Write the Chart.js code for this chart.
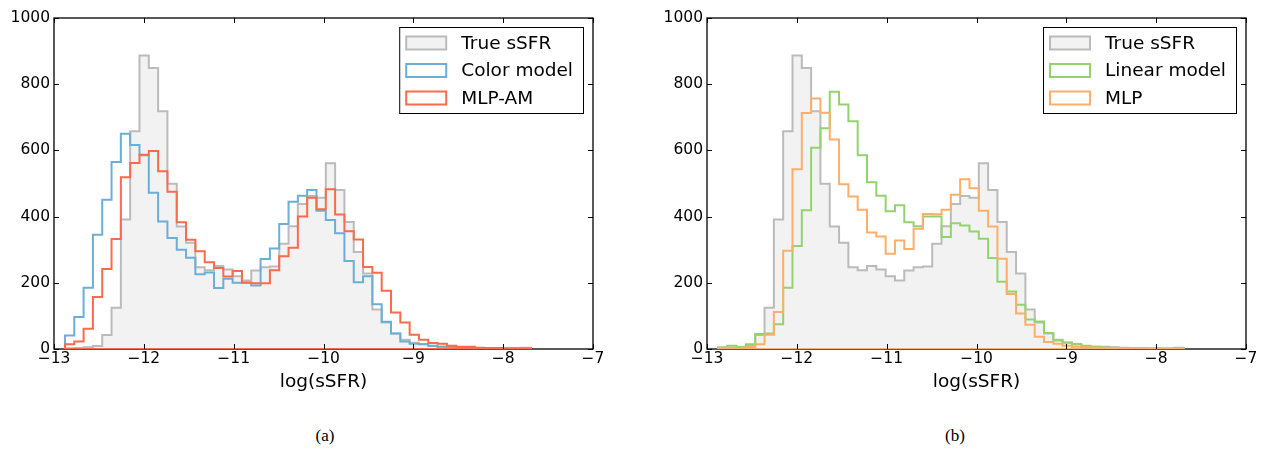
<!DOCTYPE html>
<html>
<head>
<meta charset="utf-8">
<script src="https://cdn.jsdelivr.net/npm/chart.js@4.4.1/dist/chart.umd.min.js"></script>
<style>
  body { margin: 0; background: #fff; width: 1265px; height: 449px; position: relative; overflow: hidden; }
  canvas { position: absolute; top: 0; }
  .caption { position: absolute; top: 426px; font-family: 'Liberation Serif', serif; font-size: 17px; transform: translateX(-50%); }
</style>
</head>
<body>
<canvas id="histA" width="620" height="400" style="left:0"></canvas>
<canvas id="histB" width="620" height="400" style="left:653px"></canvas>
<div class="caption" style="left:325px">(a)</div>
<div class="caption" style="left:955px">(b)</div>
<script>
// bins del histograma (50 bins comunes a todas las series)
const binStart = -12.878;
const binWidth = 0.1037;

const xTicks = [-13, -12, -11, -10, -9, -8, -7];
const yTicks = [0, 200, 400, 600, 800, 1000];

const trueSSFR = [2, 3, 5, 9, 42, 125, 391, 658, 887, 849,
    718, 499, 370, 321, 247, 238, 251, 240, 220, 207,
    237, 247, 249, 318, 371, 438, 462, 457, 561, 480,
    384, 293, 228, 119, 80, 47, 28, 19, 15, 9,
    7, 7, 5, 4, 3, 3, 2, 2, 2, 4];

const colorModel = [41, 97, 185, 345, 451, 565, 650, 616, 585, 472,
    385, 335, 300, 276, 226, 231, 184, 212, 200, 201,
    192, 272, 304, 378, 445, 463, 480, 418, 390, 350,
    266, 202, 220, 135, 82, 47, 23, 16, 14, 10,
    7, 5, 4, 3, 2, 2, 1, 1, 1, 0];

const mlpAM = [14, 23, 61, 157, 242, 332, 519, 562, 587, 598,
    537, 475, 383, 330, 295, 262, 245, 219, 236, 200,
    199, 199, 238, 280, 306, 400, 457, 422, 483, 406,
    356, 331, 248, 230, 176, 110, 80, 43, 28, 18,
    16, 10, 7, 7, 4, 3, 3, 2, 2, 2];

const linearModel = [5, 10, 6, 14, 45, 47, 75, 185, 311, 419,
    608, 667, 777, 739, 688, 585, 504, 463, 416, 434,
    383, 371, 400, 400, 338, 380, 373, 355, 333, 275,
    203, 174, 134, 89, 83, 48, 26, 20, 14, 10,
    7, 5, 4, 3, 2, 2, 1, 1, 1, 1];

const mlp = [2, 4, 3, 5, 14, 43, 112, 297, 543, 713,
    757, 714, 633, 498, 461, 421, 352, 340, 288, 328,
    302, 363, 408, 407, 421, 466, 513, 486, 418, 370,
    273, 166, 107, 73, 37, 21, 16, 10, 7, 5,
    4, 3, 3, 2, 2, 2, 1, 1, 1, 1];

Chart.defaults.font.family = "'DejaVu Sans', sans-serif";
Chart.defaults.color = '#000';

const menos = (v) => v < 0 ? '\u2212' + Math.abs(v) : String(v);

// convierte conteos en puntos escalonados (borde izquierdo de cada bin)
const pasos = (conteos, cerrar) => {
    const pts = [{ x: binStart, y: 0 }];
    conteos.forEach((c, i) => pts.push({ x: binStart + i * binWidth, y: c }));
    pts.push({ x: binStart + conteos.length * binWidth, y: 0 });
    if (cerrar) pts.push({ x: binStart, y: 0 });
    return pts;
};

const marcoPlugin = {
    id: 'marco',
    beforeDatasetsDraw(chart) {
        const { ctx, chartArea: a } = chart;
        ctx.save();
        ctx.strokeStyle = '#000';
        ctx.lineWidth = 1.3;
        ctx.strokeRect(a.left, a.top, a.right - a.left, a.bottom - a.top);
        ctx.restore();
    },
    afterDatasetsDraw(chart) {
        const { ctx, chartArea: a, scales } = chart;
        const len = 5;
        ctx.save();
        ctx.strokeStyle = '#000';
        ctx.lineWidth = 1;
        ctx.beginPath();
        xTicks.forEach(v => {
            const px = Math.round(scales.x.getPixelForValue(v)) + 0.5;
            ctx.moveTo(px, a.bottom); ctx.lineTo(px, a.bottom - len);
            ctx.moveTo(px, a.top); ctx.lineTo(px, a.top + len);
        });
        yTicks.forEach(v => {
            const py = Math.round(scales.y.getPixelForValue(v)) + 0.5;
            ctx.moveTo(a.left, py); ctx.lineTo(a.left + len, py);
            ctx.moveTo(a.right, py); ctx.lineTo(a.right - len, py);
        });
        ctx.stroke();
        ctx.restore();
    }
};

// leyenda estilo matplotlib (recuadros con borde del color de la serie)
const crearLeyenda = (items) => ({
    id: 'leyenda',
    afterDraw(chart) {
        const { ctx, chartArea: a } = chart;
        ctx.save();
        ctx.font = "18.5px 'DejaVu Sans'";
        const textW = Math.max(...items.map(it => ctx.measureText(it.label).width));
        const w = 7 + 40 + 15 + textW + 10;
        const h = 86;
        const x0 = a.right - 10 - w;
        const y0 = a.top + 9;
        ctx.fillStyle = '#fff';
        ctx.fillRect(x0, y0, w, h);
        ctx.strokeStyle = '#000';
        ctx.lineWidth = 1;
        ctx.strokeRect(x0 + 0.5, y0 + 0.5, w, h);
        items.forEach((it, i) => {
            const cy = y0 + 16 + i * 27.5;
            ctx.fillStyle = it.fill ? it.fill : '#ffffff';
            ctx.fillRect(x0 + 7, cy - 6.5, 40, 13);
            ctx.strokeStyle = it.color;
            ctx.lineWidth = 2;
            ctx.strokeRect(x0 + 7, cy - 6.5, 40, 13);
            ctx.fillStyle = '#000';
            ctx.textBaseline = 'middle';
            ctx.fillText(it.label, x0 + 62, cy + 1);
        });
        ctx.restore();
    }
});

window.crearHistograma = (canvasId, series) => {
    const ctx = document.getElementById(canvasId).getContext('2d');
    const n = series.length;

    new Chart(ctx, {
        type: 'line',
        data: {
            datasets: series.map((s, i) => ({
                label: s.label,
                data: pasos(s.data, !s.fill),
                stepped: true,
                borderColor: s.color,
                borderWidth: 2,
                backgroundColor: s.fill || 'transparent',
                fill: s.fill ? 'origin' : false,
                pointRadius: 0,
                order: n - i
            }))
        },
        options: {
            responsive: false,
            animation: false,
            layout: { padding: { top: 18, right: 27, left: 0, bottom: 0 } },
            plugins: {
                legend: { display: false },
                tooltip: { enabled: false }
            },
            scales: {
                x: {
                    type: 'linear',
                    min: -13,
                    max: -7,
                    afterFit: (s) => { s.height = 51; },
                    afterBuildTicks: (s) => { s.ticks = xTicks.map(v => ({ value: v })); },
                    grid: { display: false, drawTicks: false },
                    border: { display: false },
                    ticks: { padding: 1, font: { size: 15.5 }, callback: menos },
                    title: { display: true, text: 'log(sSFR)', font: { size: 18.5 }, padding: { top: 0, bottom: 7 } }
                },
                y: {
                    min: 0,
                    max: 1000,
                    afterFit: (s) => { s.width = 54; },
                    afterBuildTicks: (s) => { s.ticks = yTicks.map(v => ({ value: v })); },
                    grid: { display: false, drawTicks: false },
                    border: { display: false },
                    ticks: { padding: 4, font: { size: 15.5 }, callback: (v) => String(v) }
                }
            }
        },
        plugins: [marcoPlugin, crearLeyenda(series)]
    });
};

crearHistograma('histA', [
    { label: 'True sSFR', data: trueSSFR, color: '#bbbbbb', fill: '#f2f2f2' },
    { label: 'Color model', data: colorModel, color: '#6baed6' },
    { label: 'MLP-AM', data: mlpAM, color: '#fb6a4a' }
]);

crearHistograma('histB', [
    { label: 'True sSFR', data: trueSSFR, color: '#bbbbbb', fill: '#f2f2f2' },
    { label: 'Linear model', data: linearModel, color: '#93d36e' },
    { label: 'MLP', data: mlp, color: '#fdae6b' }
]);
</script>
</body>
</html>
